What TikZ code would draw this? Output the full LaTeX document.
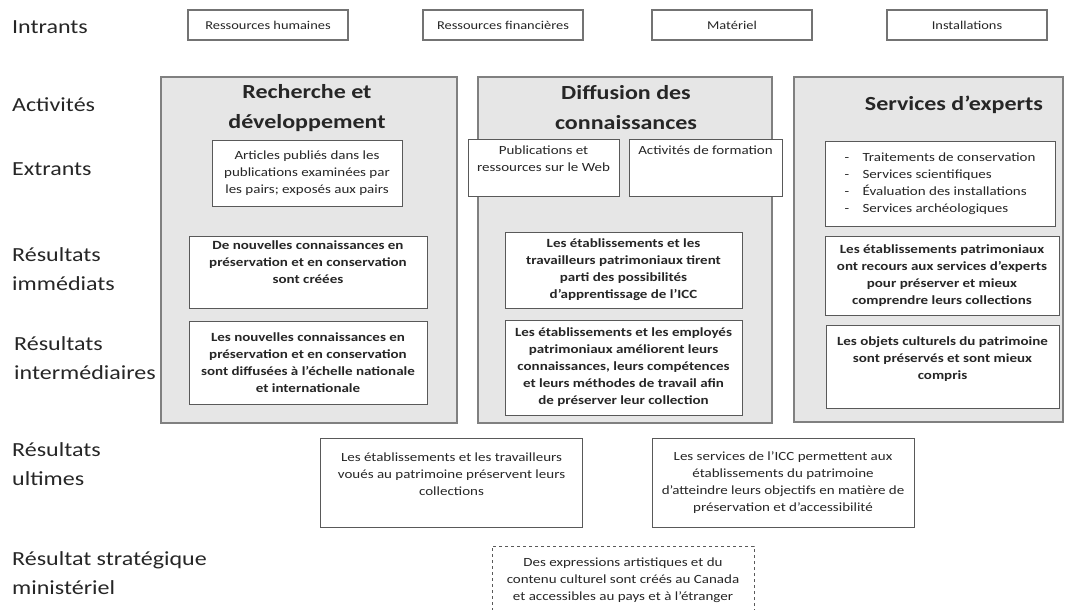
\documentclass[tikz,border=0pt]{standalone}
\usepackage{fontspec}
\setmainfont{Carlito}[FakeStretch=1.2]
\definecolor{grpfill}{HTML}{E6E6E6}
\begin{document}
\begin{tikzpicture}[x=1pt,y=-1pt,
  lbl/.style={anchor=west, align=left, inner sep=0pt, text=black!85, font=\fontsize{20}{29}\selectfont},
  inbox/.style={draw=black!55, line width=1.2pt, minimum width=160, minimum height=30, inner sep=0pt, text=black!85, font=\fontsize{12}{14}\selectfont},
  grp/.style={draw=black!50, fill=grpfill, line width=1.5pt, inner sep=0pt},
  grptitle/.style={align=center, inner sep=0pt, text=black!85, font=\bfseries\fontsize{20}{30}\selectfont},
  outbox/.style={draw=black!65, fill=white, line width=1pt, align=center, inner sep=0pt, text=black!85, font=\fontsize{12.5}{17}\selectfont},
  resbox/.style={outbox, font=\bfseries\fontsize{12.5}{17}\selectfont},
  ultbox/.style={outbox, minimum width=262, minimum height=89}
]
\useasboundingbox (0,0) rectangle (1073,610);

% row labels
\node[lbl] (lintr) at (12,27) {Intrants};
\node[lbl] (lact) at (12,105) {Activités};
\node[lbl] (lextr) at (12,169) {Extrants};
\node[lbl] (limm) at (12,269) {Résultats\\immédiats};
\node[lbl] (linter) at (14,358) {Résultats\\intermédiaires};
\node[lbl] (lult) at (12,464) {Résultats\\ultimes};
\node[lbl] (lstrat) at (12,573) {Résultat stratégique\\ministériel};

% inputs
\node[inbox] (rh) at (268,25) {Ressources humaines};
\node[inbox] (rf) at (503,25) {Ressources financières};
\node[inbox] (mat) at (732,25) {Matériel};
\node[inbox] (inst) at (967,25) {Installations};

% activity groups
\node[grp, minimum width=296, minimum height=346] (rd) at (309,250) {};
\node[grp, minimum width=294, minimum height=346] (diff) at (625,250) {};
\node[grp, minimum width=269, minimum height=345] (serv) at (928.5,249.5) {};
\node[grptitle] (rdt) at (307,108) {Recherche et\\développement};
\node[grptitle] (difft) at (626,108) {Diffusion des\\connaissances};
\node[grptitle] (servt) at (954,105) {Services d’experts};

% outputs
\node[outbox, minimum width=190, minimum height=66] (art) at (307,173) {Articles publiés dans les\\publications examinées par\\les pairs; exposés aux pairs};
\node[outbox, minimum width=151, minimum height=57] (pub) at (543.5,167.5) {Publications et\\ressources sur le Web\\\mbox{}};
\node[outbox, minimum width=153, minimum height=57] (form) at (705.5,167.5) {Activités de formation\\\mbox{}\\\mbox{}};
\node[outbox, align=left, minimum width=230, minimum height=85] (exp) at (940,183.5)
  {\makebox[18pt][l]{-}Traitements de conservation\\\makebox[18pt][l]{-}Services scientifiques\\\makebox[18pt][l]{-}Évaluation des installations\\\makebox[18pt][l]{-}Services archéologiques};

% immediate outcomes
\node[resbox, minimum width=238, minimum height=72] (imm1) at (308,272) {De nouvelles connaissances en\\préservation et en conservation\\sont créées\\[2pt]};
\node[resbox, minimum width=237, minimum height=76] (imm2) at (623.5,270) {Les établissements et les\\travailleurs patrimoniaux tirent\\parti des possibilités\\d’apprentissage de l’ICC};
\node[resbox, minimum width=234, minimum height=79] (imm3) at (942,275.5) {Les établissements patrimoniaux\\ont recours aux services d’experts\\pour préserver et mieux\\comprendre leurs collections};

% intermediate outcomes
\node[resbox, minimum width=238, minimum height=83] (int1) at (308,362.5) {Les nouvelles connaissances en\\préservation et en conservation\\sont diffusées à l’échelle nationale\\et internationale};
\node[resbox, minimum width=237, minimum height=95] (int2) at (623.5,367.5) {Les établissements et les employés\\patrimoniaux améliorent leurs\\connaissances, leurs compétences\\et leurs méthodes de travail afin\\de préserver leur collection};
\node[resbox, minimum width=233, minimum height=83] (int3) at (942.5,366.5) {Les objets culturels du patrimoine\\sont préservés et sont mieux\\compris\\\mbox{}};

% ultimate outcomes
\node[ultbox] (ult1) at (451.5,482.5) {Les établissements et les travailleurs\\voués au patrimoine préservent leurs\\collections\\\mbox{}};
\node[ultbox] (ult2) at (783,482.5) {Les services de l’ICC permettent aux\\établissements du patrimoine\\d’atteindre leurs objectifs en matière de\\préservation et d’accessibilité};

% strategic outcome
\node[outbox, dashed, minimum width=262, minimum height=68] (strat) at (623,580) {Des expressions artistiques et du\\contenu culturel sont créés au Canada\\et accessibles au pays et à l’étranger};
\end{tikzpicture}
\end{document}
